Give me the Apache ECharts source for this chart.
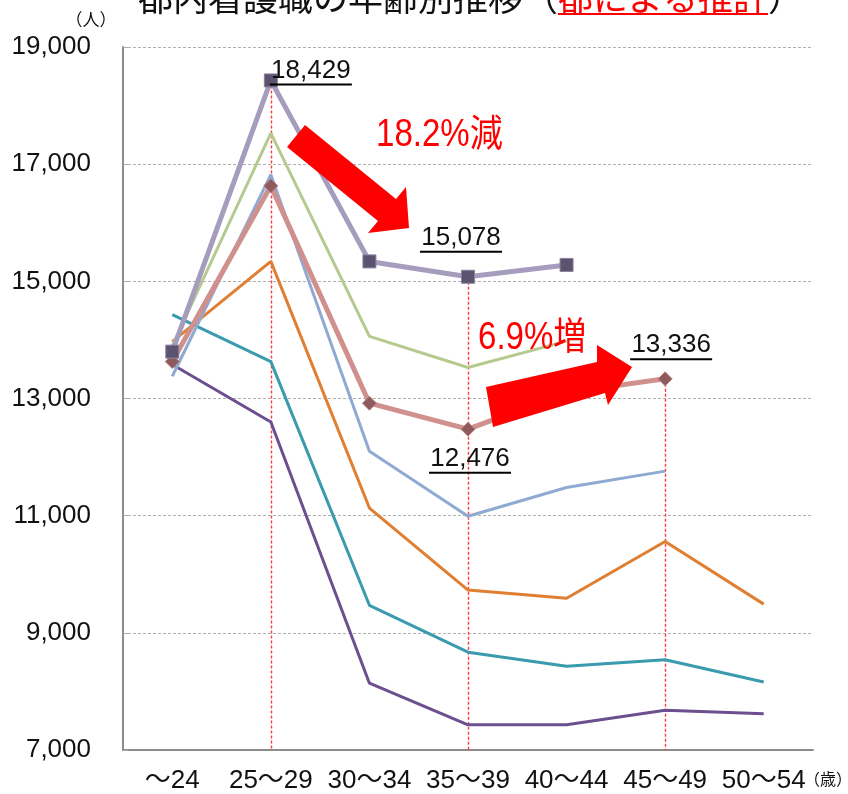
<!DOCTYPE html>
<html>
<head>
<meta charset="utf-8">
<script src="https://cdn.jsdelivr.net/npm/echarts@6/dist/echarts.min.js"></script>
<style>
  html, body { margin: 0; padding: 0; background: #fff; }
  #main { width: 848px; height: 794px; }
</style>
</head>
<body>
<div id="main"></div>
<script>
// 年齢区分
var ages = ['～24', '25～29', '30～34', '35～39', '40～44', '45～49', '50～54'];
// y軸目盛
var yMin = 7000, yMax = 19000, yStep = 2000;

// 各年の推移（下から順に）
var line1 = [13580, 12600, 8140, 7430, 7430, 7680, 7620];
var line2 = [14430, 13630, 9470, 8670, 8430, 8540, 8160];
var line3 = [13970, 15340, 11130, 9730, 9590, 10560, 9490];
var line4 = [13380, 16820, 12100, 10990, 11480, 11760, null];
var line5 = [13900, 17530, 14060, 13530, 13980, null, null];
var line6 = [13630, 16630, 12920, 12476, 13100, 13336, null];  // 都による推計
var line7 = [13800, 18429, 15340, 15078, 15280, null, null];

var FONT = '"Liberation Sans", "Noto Sans CJK JP", sans-serif';
var CJK = '"Noto Sans CJK JP", sans-serif';

var myChart = echarts.init(document.getElementById('main'));

// 下線付きの数値ラベル
function ulLabel(pos, offset) {
  return {
    show: true,
    position: pos,
    offset: offset,
    formatter: function (p) {
      return '{t|' + Number(p.value).toLocaleString('en-US') + '}\n{u|}';
    },
    rich: {
      t: { fontSize: 26, fontFamily: FONT, color: '#111', lineHeight: 26, align: 'center' },
      u: { width: 82, height: 2, lineHeight: 2, backgroundColor: '#000' }
    }
  };
}

function withLabels(arr, labels) {
  return arr.map(function (v, i) {
    if (labels[i]) return { value: v, label: labels[i] };
    return v;
  });
}

function plain(name, data, color, width, z) {
  return {
    name: name, type: 'line', data: data, z: z,
    symbol: 'none', smooth: false,
    lineStyle: { color: color, width: width },
    itemStyle: { color: color }
  };
}

// ドロップライン（上端の値は系列から）
var drops = [[ages[1], line7[1]], [ages[3], line7[3]], [ages[5], line6[5]]];

var series = [
  plain('a', line1, '#6b4f8e', 3, 2),
  plain('b', line2, '#3a9aae', 3, 2),
  plain('c', line3, '#e07f31', 3, 2),
  plain('d', line4, '#8faad2', 3, 2),
  plain('e', line5, '#b6ca8f', 3, 2),
  {
    name: 'f', type: 'line', z: 3,
    data: withLabels(line6, { 3: ulLabel('bottom', [2, 4]), 5: ulLabel('top', [6, -6]) }),
    symbol: 'diamond', symbolSize: 14,
    lineStyle: { color: '#cf908e', width: 5 },
    itemStyle: { color: '#8e5b5c', borderColor: '#b68283', borderWidth: 1 },
    markLine: {
      silent: true, symbol: 'none', label: { show: false }, z: 1,
      emphasis: { disabled: true },
      data: drops.map(function (d) {
        return [
          { coord: [d[0], d[1]], lineStyle: { color: '#ff3b3b', type: [3, 2], width: 1.4 } },
          { coord: [d[0], yMin] }
        ];
      })
    }
  },
  {
    name: 'g', type: 'line', z: 4,
    data: withLabels(line7, { 1: ulLabel('top', [40, 17]), 3: ulLabel('top', [-7, -12]) }),
    symbol: 'rect', symbolSize: 13,
    lineStyle: { color: '#a59cbe', width: 5 },
    itemStyle: { color: '#5c536f', borderColor: '#8a819c', borderWidth: 1 }
  }
];

myChart.setOption({
  backgroundColor: '#fff',
  animation: false,
  grid: { left: 123, right: 35, top: 47, bottom: 43, containLabel: false },
  xAxis: {
    type: 'category',
    data: ages,
    boundaryGap: true,
    axisLine: { lineStyle: { color: '#8c8c8c', width: 2 } },
    axisTick: { show: false },
    axisLabel: { fontSize: 26, fontFamily: FONT, color: '#111', margin: 18, interval: 0 }
  },
  yAxis: {
    type: 'value',
    min: yMin, max: yMax, interval: yStep,
    axisLine: { show: true, lineStyle: { color: '#8c8c8c', width: 2 } },
    axisTick: { show: true, inside: true, length: 5, lineStyle: { color: '#aaa' } },
    axisLabel: {
      fontSize: 26, fontFamily: FONT, color: '#111', margin: 32,
      formatter: function (v) { return v.toLocaleString('en-US'); }
    },
    splitLine: { show: true, lineStyle: { color: '#b0b0b0', type: [3, 2], width: 1 } }
  },
  series: series,
  graphic: [
    // タイトル（上端が切れている）
    { type: 'text', x: 138, y: 15, z: 10,
      style: { text: '都内看護職の年齢別推移（', font: '35px ' + CJK, fill: '#111',
               align: 'left', verticalAlign: 'bottom', textAlign: 'left', textVerticalAlign: 'bottom' } },
    { type: 'text', x: 138 + 12 * 35, y: 15, z: 10,
      style: { text: '都による推計', font: '35px ' + CJK, fill: '#ff0000',
               align: 'left', verticalAlign: 'bottom', textAlign: 'left', textVerticalAlign: 'bottom' } },
    { type: 'text', x: 138 + 18 * 35, y: 15, z: 10,
      style: { text: '）', font: '35px ' + CJK, fill: '#111',
               align: 'left', verticalAlign: 'bottom', textAlign: 'left', textVerticalAlign: 'bottom' } },
    { type: 'line', z: 10, shape: { x1: 138 + 12 * 35, y1: 14, x2: 138 + 18 * 35, y2: 14 },
      style: { stroke: '#ff0000', lineWidth: 2 } },
    // 単位
    { type: 'text', x: 91, y: 20, z: 10,
      style: { text: '（人）', font: '17px ' + CJK, fill: '#111',
               align: 'center', verticalAlign: 'middle', textAlign: 'center', textVerticalAlign: 'middle' } },
    { type: 'text', x: 828, y: 779, z: 10,
      style: { text: '（歳）', font: '16px ' + CJK, fill: '#111',
               align: 'center', verticalAlign: 'middle', textAlign: 'center', textVerticalAlign: 'middle' } },
    // 減少の矢印
    { type: 'polygon', z: 20,
      shape: { points: [[305, 125], [396, 199], [406, 187], [409, 228], [368, 233], [378, 221], [287, 147]] },
      style: { fill: '#ff0000' } },
    { type: 'text', x: 376, y: 136, z: 20, scaleX: 0.87,
      style: { text: '18.2%減', font: '38px ' + FONT, fill: '#ff0000',
               align: 'left', verticalAlign: 'middle', textAlign: 'left', textVerticalAlign: 'middle' } },
    // 増加の矢印
    { type: 'polygon', z: 20,
      shape: { points: [[486, 387], [597, 362], [597, 345], [632, 367], [608, 405], [605, 393], [493, 427]] },
      style: { fill: '#ff0000' } },
    { type: 'text', x: 478, y: 339, z: 20, scaleX: 0.87,
      style: { text: '6.9%増', font: '38px ' + FONT, fill: '#ff0000',
               align: 'left', verticalAlign: 'middle', textAlign: 'left', textVerticalAlign: 'middle' } }
  ]
});
</script>
</body>
</html>
